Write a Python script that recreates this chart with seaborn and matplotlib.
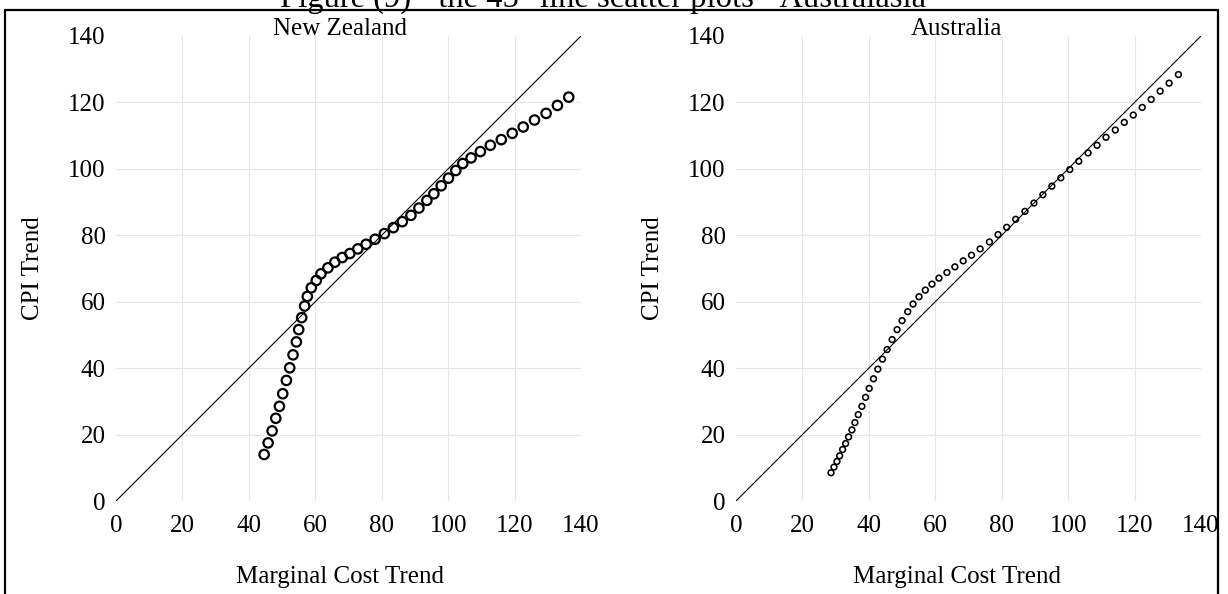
import matplotlib
matplotlib.use("Agg")
import matplotlib.pyplot as plt
import seaborn as sns
import pandas as pd
from matplotlib.lines import Line2D

# ---------------- data ----------------
nz_mc = [44.6, 45.8, 47.0, 48.1, 49.2, 50.2, 51.3, 52.3, 53.3, 54.3, 55.0, 55.9,
         56.8, 57.6, 58.8, 60.3, 61.7, 63.8, 65.9, 68.1, 70.4, 72.8, 75.3, 78.0,
         80.8, 83.5, 86.2, 88.8, 91.2, 93.6, 95.7, 97.9, 100.1, 102.3, 104.4,
         106.9, 109.7, 112.7, 116.0, 119.3, 122.6, 126.0, 129.5, 132.9, 136.3]
nz_cpi = [14.0, 17.5, 21.1, 24.9, 28.5, 32.3, 36.3, 40.1, 44.0, 47.9, 51.6, 55.2,
          58.7, 61.6, 64.2, 66.4, 68.4, 70.2, 71.9, 73.3, 74.5, 75.9, 77.3, 78.8,
          80.5, 82.3, 84.1, 86.0, 88.2, 90.5, 92.5, 94.9, 97.2, 99.5, 101.6,
          103.3, 105.2, 107.1, 108.8, 110.7, 112.6, 114.7, 116.7, 119.1, 121.6]

au_mc = [28.6, 29.5, 30.4, 31.2, 32.1, 33.0, 33.9, 34.9, 35.8, 36.8, 37.9, 39.0,
         40.1, 41.4, 42.7, 44.1, 45.5, 47.0, 48.5, 50.0, 51.7, 53.3, 55.1, 57.0,
         59.0, 61.1, 63.5, 65.9, 68.4, 70.9, 73.5, 76.3, 78.9, 81.5, 84.2, 87.0,
         89.7, 92.4, 95.1, 97.8, 100.5, 103.2, 106.0, 108.7, 111.4, 114.2, 116.9,
         119.6, 122.3, 125.0, 127.7, 130.4, 133.2]
au_cpi = [8.5, 10.2, 11.9, 13.6, 15.5, 17.3, 19.3, 21.4, 23.6, 26.0, 28.5, 31.2,
          33.9, 36.8, 39.7, 42.7, 45.6, 48.6, 51.6, 54.3, 57.0, 59.3, 61.5, 63.5,
          65.3, 67.1, 68.8, 70.5, 72.3, 74.0, 75.9, 78.0, 80.2, 82.4, 84.8, 87.2,
          89.7, 92.2, 94.8, 97.3, 99.8, 102.3, 104.8, 107.1, 109.5, 111.7, 114.0,
          116.2, 118.5, 120.9, 123.4, 125.8, 128.4]

line_nz = [0, 141]
line_au = [0, 140]

ticks = [0, 20, 40, 60, 80, 100, 120, 140]
panel_titles = ["New Zealand", "Australia"]
x_label = "Marginal Cost Trend"
y_label = "CPI Trend"
fig_title = "Figure (9) - the 45\u00b0 line scatter plots - Australasia"

# ---------------- style ----------------
sns.set_theme(style="white")
plt.rcParams["font.family"] = ["Liberation Serif", "DejaVu Serif"]

W, H = 1228, 594
fig = plt.figure(figsize=(W / 100, H / 100), dpi=100)
fig.patch.set_facecolor("white")

axes_px = [(116, 36, 465, 465), (736, 36, 465, 465)]
axes = [fig.add_axes([x / W, 1 - (y + h) / H, w / W, h / H]) for x, y, w, h in axes_px]

panels = [
    (nz_mc, nz_cpi, line_nz, 46, 1.6),
    (au_mc, au_cpi, line_au, 17, 1.15),
]

FS = 18
for ax, (mc, cpi, ln, s, lw), title, lx in zip(axes, panels, panel_titles, [0.482, 0.475]):
    df = pd.DataFrame({"mc": mc, "cpi": cpi})
    sns.lineplot(x=ln, y=ln, ax=ax, color="black", linewidth=0.8, zorder=2)
    sns.scatterplot(data=df, x="mc", y="cpi", ax=ax, marker="o", s=s,
                    facecolor="none", edgecolor="black", linewidth=lw, zorder=3)
    ax.set_xlim(0, 140)
    ax.set_ylim(0, 140)
    ax.set_xticks(ticks)
    ax.set_yticks(ticks)
    ax.set_xticklabels([str(t) for t in ticks])
    ax.set_yticklabels([str(t) for t in ticks])
    for sp in ax.spines.values():
        sp.set_visible(False)
    ax.grid(True, color="#e6e6e6", linewidth=0.8, zorder=0)
    ax.set_axisbelow(True)
    for gl in (ax.xaxis.get_gridlines()[0], ax.xaxis.get_gridlines()[-1],
               ax.yaxis.get_gridlines()[0], ax.yaxis.get_gridlines()[-1]):
        gl.set_visible(False)
    ax.tick_params(axis="x", length=0, labelsize=FS, pad=10, colors="black")
    ax.tick_params(axis="y", length=0, labelsize=FS, pad=7.5, colors="black")
    ax.set_xlabel(x_label, fontsize=FS, color="black")
    ax.set_ylabel(y_label, fontsize=FS, color="black")
    ax.xaxis.set_label_coords(lx, -0.14)
    ax.yaxis.set_label_coords(-0.155, 0.5)
    ax.set_title(title, fontsize=FS, x=lx, pad=1, color="black")
    ax.set_facecolor("white")

# partially visible document caption (cut by the top edge, as in the source) and frame
fig.text(0.491, 1 - 7 / H, fig_title, ha="center", va="baseline", fontsize=23.5,
         color="black")
ytop = 1 - 10 / H
frame_kw = dict(color="black", linewidth=1.6, transform=fig.transFigure)
fig.add_artist(Line2D([5 / W, 1218 / W], [ytop, ytop], **frame_kw))
fig.add_artist(Line2D([5 / W, 5 / W], [ytop, 0], **frame_kw))
fig.add_artist(Line2D([1218 / W, 1218 / W], [ytop, 0], **frame_kw))

fig.savefig("out.png", dpi=100, facecolor="white")
